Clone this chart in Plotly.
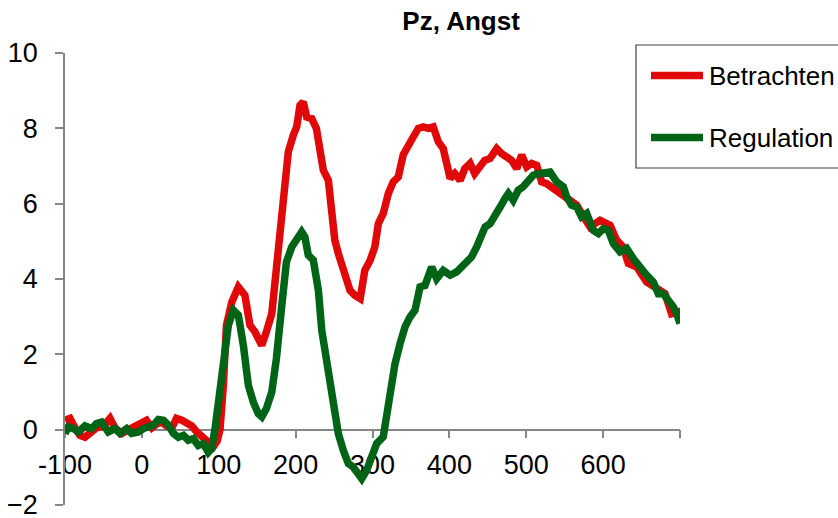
import plotly.graph_objects as go

# ---- data ----
t_betrachten = [-100, -93.5, -87, -80.5, -74, -67.5, -59, -50, -41.5, -35, -26, -17.5, -9, 0, 6, 13, 19, 26, 32, 39,
                45, 52, 58, 65, 71, 78, 84, 93, 98, 101.6, 106, 110, 117, 125.5, 134, 140.6, 147, 156, 162, 169,
                175, 180, 186, 190.5, 197, 201.4, 205.7, 210, 214.4, 221, 227, 232, 236, 242.6, 247, 251, 255.6, 260,
                264, 270.7, 277, 284, 290, 297, 303, 307.6, 314, 320.6, 327, 333.6, 340, 346.6, 353, 359.6, 366,
                372.7, 379, 385.7, 392, 396.5, 401, 407, 414, 420, 427, 433, 440, 446, 453, 461.6, 468, 474.6, 481,
                487.6, 494, 500.6, 507, 513.6, 520, 526.6, 535, 542, 548, 557, 565.6, 572, 583, 596, 609, 617.6,
                626, 632.8, 643.7, 656.7, 669.7, 680.5, 689, 698, 700]
v_betrachten = [0.25, 0.3, 0.05, -0.15, -0.2, -0.1, 0.05, 0.1, 0.3, 0.05, -0.1, 0.0, 0.1, 0.15, 0.25, 0.05, 0.15, 0.2, 0.1, 0.05,
                0.3, 0.25, 0.2, 0.1, -0.05, -0.2, -0.3, -0.45, -0.3, 0.0, 1.18, 2.77, 3.39, 3.79, 3.57, 2.77, 2.6, 2.24, 2.6, 3.08,
                4.28, 5.43, 6.49, 7.38, 7.82, 8.04, 8.61, 8.7, 8.3, 8.26, 8.0, 7.3, 6.89, 6.62, 5.83, 5.03, 4.67, 4.41,
                4.05, 3.7, 3.57, 3.48, 4.23, 4.5, 4.85, 5.47, 5.74, 6.27, 6.58, 6.71, 7.3, 7.6, 7.77, 8.0, 8.04,
                8.0, 8.04, 7.64, 7.46, 7.07, 6.67, 6.8, 6.62, 6.93, 7.07, 6.8, 7.02, 7.15, 7.2, 7.46, 7.33, 7.24, 7.15,
                6.93, 7.29, 6.98, 7.07, 7.02, 6.58, 6.53, 6.4, 6.31, 6.22, 6.05, 5.96, 5.74, 5.38, 5.56, 5.43, 5.03,
                4.85, 4.41, 4.32, 3.92, 3.74, 3.61, 3.08, 3.13, 2.99]

t_regulation = [-100, -95.7, -89, -82.7, -74, -65.4, -59, -52.4, -43.7, -35, -28.5, -19.8, -13.3, -4.6, 2, 8.4, 15, 21.4, 28, 34.4,
                41, 47.4, 54, 60.4, 67, 73.4, 80, 86.4, 90.8, 95, 99.5, 106, 112.5, 119, 125.5, 132, 138.5, 145, 151.5, 156,
                162, 169, 175, 182, 188, 195, 201.4, 207.9, 212, 216.5, 223, 229.6, 234, 240.4, 247, 251, 255.6, 262,
                268.6, 275, 281.6, 286, 292.4, 299, 305.4, 314, 318.4, 322.8, 329.3, 335.8, 342.3, 348.8, 355.3, 361.8,
                368.3, 377, 383.5, 392, 401, 409.5, 416, 422.5, 429, 435.5, 442, 446.4, 453, 459.4, 466, 472.4, 476.7,
                483, 489.7, 496, 502.8, 509.3, 518, 524.4, 531, 539.6, 548.3, 552.6, 559, 565.6, 572, 578.6, 587.3,
                593.8, 600.3, 606.8, 613.3, 622, 630.7, 639.3, 648, 656.7, 665.3, 671.8, 678.3, 684.9, 691.4, 695.7, 700]
v_regulation = [-0.1, 0.07, 0.03, -0.06, 0.1, 0.03, 0.16, 0.2, -0.06, 0.03, -0.1, 0.03, -0.1, -0.06, 0.03, 0.07, 0.12, 0.27, 0.25, 0.12,
                -0.1, -0.2, -0.15, -0.28, -0.24, -0.42, -0.37, -0.6, -0.5, 0.0, 0.65, 1.71, 2.77, 3.17, 3.04, 2.24, 1.18, 0.73, 0.42, 0.34,
                0.56, 1.0, 1.89, 3.3, 4.45, 4.85, 5.03, 5.25, 5.12, 4.63, 4.5, 3.7, 2.64, 1.75, 0.87, 0.34, -0.11, -0.55,
                -0.9, -0.99, -1.21, -1.3, -1.08, -0.73, -0.37, -0.19, 0.34, 1.04, 1.75, 2.28, 2.73, 2.99, 3.17, 3.79,
                3.83, 4.32, 4.01, 4.23, 4.1, 4.19, 4.32, 4.41, 4.59, 4.85, 5.12, 5.38, 5.47, 5.74, 5.91, 6.14, 6.27,
                6.09, 6.36, 6.45, 6.62, 6.76, 6.8, 6.8, 6.84, 6.58, 6.45, 6.18, 5.96, 5.91, 5.65, 5.74, 5.29,
                5.21, 5.34, 5.29, 4.94, 4.72, 4.81, 4.54, 4.28, 4.1, 3.92, 3.61, 3.61, 3.44, 3.26, 3.08, 2.82]

series_names = ["Betrachten", "Regulation"]
x_tick_values = [-100, 0, 100, 200, 300, 400, 500, 600, 700]
x_tick_labels = ["-100", "0", "100", "200", "300", "400", "500", "600", ""]
y_tick_values = [-2, 0, 2, 4, 6, 8, 10]
title_text = "Pz, Angst"

# ---- style ----
RED = "rgb(224,8,8)"
GREEN = "rgb(0,100,22)"
AXIS = "#868686"
FONT = "Liberation Sans, Arial, sans-serif"
LW = 7.5

fig = go.Figure()
fig.add_trace(go.Scatter(x=t_betrachten, y=v_betrachten, mode="lines", name=series_names[0],
                         line=dict(color=RED, width=LW), showlegend=False))
fig.add_trace(go.Scatter(x=t_regulation, y=v_regulation, mode="lines", name=series_names[1],
                         line=dict(color=GREEN, width=LW), showlegend=False))

fig.update_layout(
    width=838, height=518,
    margin=dict(l=65, r=158, t=53, b=13, autoexpand=False),
    paper_bgcolor="white", plot_bgcolor="white",
    font=dict(family=FONT, color="black", size=26),
    title=dict(text="<b>" + title_text + "</b>", x=0.644, xref="paper", xanchor="center",
               y=1 - 21 / 518, yref="container", yanchor="middle",
               font=dict(family=FONT, size=26, color="black")),
    xaxis=dict(range=[-100, 700], tickmode="array", tickvals=x_tick_values, ticktext=x_tick_labels,
               showgrid=False, zeroline=False, showline=True, linecolor=AXIS, linewidth=1.5,
               ticks="outside", ticklen=8, tickwidth=1.5, tickcolor=AXIS,
               anchor="free", position=2 / 12, layer="below traces", automargin=False,
               ticklabelstandoff=3, ticklabeloverflow="allow",
               tickfont=dict(size=27, family=FONT, color="black")),
    yaxis=dict(range=[-2, 10], tickmode="array", tickvals=y_tick_values,
               showgrid=False, zeroline=False, showline=True, linecolor=AXIS, linewidth=1.5,
               ticks="outside", ticklen=8, tickwidth=1.5, tickcolor=AXIS, automargin=False,
               ticklabelstandoff=12, ticklabeloverflow="allow",
               tickfont=dict(size=27, family=FONT, color="black")),
)

# ---- manual legend (Excel style) ----
def px_x(p):
    return (p - 65) / 615

def px_y(p):
    return (505 - p) / 452

fig.add_shape(type="rect", xref="paper", yref="paper", x0=px_x(636), x1=px_x(850), y0=px_y(168), y1=px_y(45),
              line=dict(color="#404040", width=1.2), fillcolor="rgba(0,0,0,0)", layer="above")
for name, color, ypix in [(series_names[0], RED, 75.5), (series_names[1], GREEN, 137.5)]:
    fig.add_shape(type="line", xref="paper", yref="paper", x0=px_x(651), x1=px_x(703), y0=px_y(ypix), y1=px_y(ypix),
                  line=dict(color=color, width=LW))
    fig.add_annotation(text=name, xref="paper", yref="paper", x=px_x(707), y=px_y(ypix), xanchor="left",
                       yanchor="middle", showarrow=False, font=dict(family=FONT, size=26, color="black"))

fig.write_html("out.html")
